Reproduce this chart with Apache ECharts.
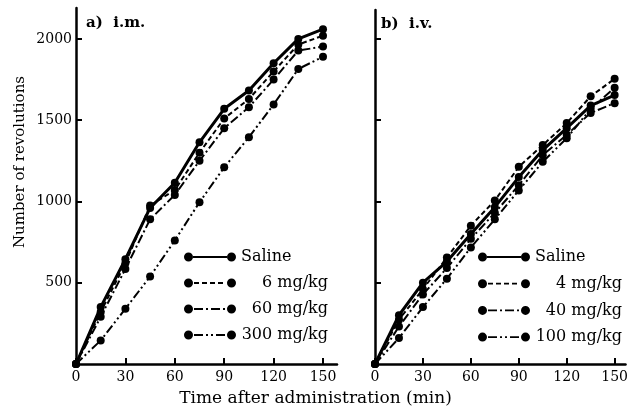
<!DOCTYPE html>
<html>
<head>
<meta charset="utf-8">
<script src="https://cdn.jsdelivr.net/npm/echarts@6/dist/echarts.min.js"></script>
<style>html,body{margin:0;padding:0;background:#fff}#c{width:631px;height:414px}</style>
</head>
<body>
<div id="c"></div>
<script>
// ---- data ----
var times = [0, 15, 30, 45, 60, 75, 90, 105, 120, 135, 150];
var xTicks = [0, 30, 60, 90, 120, 150];
var yTicks = [500, 1000, 1500, 2000];

var imNames = ['Saline', '6 mg/kg', '60 mg/kg', '300 mg/kg'];
var imSaline = [0, 350, 645, 960, 1115, 1364, 1570, 1682, 1850, 2000, 2060];
var im6 = [0, 320, 620, 975, 1070, 1300, 1510, 1630, 1800, 1965, 2020];
var im60 = [0, 290, 585, 890, 1040, 1250, 1450, 1580, 1750, 1928, 1953];
var im300 = [0, 145, 340, 538, 760, 995, 1210, 1395, 1596, 1815, 1890];

var ivNames = ['Saline', '4 mg/kg', '40 mg/kg', '100 mg/kg'];
var ivSaline = [0, 300, 500, 630, 800, 965, 1150, 1316, 1451, 1590, 1655];
var iv4 = [0, 273, 460, 655, 851, 1006, 1213, 1347, 1482, 1647, 1755];
var iv40 = [0, 231, 428, 590, 770, 930, 1100, 1285, 1410, 1545, 1605];
var iv100 = [0, 160, 350, 525, 717, 890, 1068, 1244, 1389, 1570, 1700];

// ---- styles ----
var FONT = 'DejaVu Serif';
var dashes = ['solid', [5, 3], [9, 3, 2, 3], [9, 3, 2, 3, 2, 3]];
var widths = [3, 2, 2, 2];

function pairs(vals) { return times.map(function (t, i) { return [t, vals[i]]; }); }

// legend icon path: dots at both ends with a line pattern between
function iconPath(pattern) {
  var W = 52;
  var p = 'M0,4.5 A4.5,4.5 0 1,1 9,4.5 A4.5,4.5 0 1,1 0,4.5 Z ' +
          'M' + (W - 9) + ',4.5 A4.5,4.5 0 1,1 ' + W + ',4.5 A4.5,4.5 0 1,1 ' + (W - 9) + ',4.5 Z ';
  var x0 = 9, x1 = W - 9;
  if (pattern === 'solid') {
    p += 'M' + x0 + ',3.4 H' + x1 + ' V5.6 H' + x0 + ' Z';
  } else {
    var x = x0 + 1, k = 0;
    while (x < x1 - 1) {
      var len = pattern[k % pattern.length];
      var gap = pattern[(k + 1) % pattern.length];
      var e = Math.min(x + len, x1);
      p += 'M' + x + ',3.6 H' + e + ' V5.4 H' + x + ' Z ';
      x = e + gap; k += 2;
    }
  }
  return 'path://' + p;
}

function makeSeries(names, arrs, idx) {
  return names.map(function (n, i) {
    return {
      type: 'line', name: n, xAxisIndex: idx, yAxisIndex: idx,
      data: pairs(arrs[i]),
      symbol: 'circle', symbolSize: 8, showSymbol: true,
      lineStyle: { color: '#000', width: widths[i], type: dashes[i] },
      itemStyle: { color: '#000' },
      animation: false, z: 5 - i
    };
  });
}

function legendFor(names, left, top, gap) {
  return {
    orient: 'vertical', left: left, top: top, padding: 0, itemGap: gap,
    itemWidth: 52, itemHeight: 9, symbolKeepAspect: false, selectedMode: false,
    data: names.map(function (n, i) { return { name: n, icon: iconPath(dashes[i]) }; }),
    formatter: function (n) { return n === 'Saline' ? '{l|' + n + '}' : '{r|' + n + '}'; },
    textStyle: {
      fontFamily: FONT, fontSize: 16, color: '#000', lineHeight: 18,
      rich: {
        l: { width: 87, align: 'left', fontFamily: FONT, fontSize: 16, color: '#000', lineHeight: 18 },
        r: { width: 87, align: 'right', fontFamily: FONT, fontSize: 16, color: '#000', lineHeight: 18 }
      }
    }
  };
}

var axisLine = { show: true, lineStyle: { color: '#000', width: 2.5 } };
var axisTick = { show: true, inside: true, length: 6, lineStyle: { color: '#000', width: 2 } };
function plain(v) { return String(v); }

function xAxisFor(idx, max) {
  return {
    type: 'value', gridIndex: idx, min: 0, max: max,
    axisLine: axisLine,
    axisTick: Object.assign({ customValues: xTicks }, axisTick),
    axisLabel: { customValues: xTicks, formatter: plain, color: '#000', fontFamily: FONT, fontSize: 14, margin: 6 },
    splitLine: { show: false }
  };
}
function yAxisFor(idx, max, showLabels) {
  var a = {
    type: 'value', gridIndex: idx, min: 0, max: max,
    axisLine: axisLine,
    axisTick: Object.assign({ customValues: yTicks }, axisTick),
    axisLabel: { show: showLabels, customValues: yTicks, formatter: plain, color: '#000', fontFamily: FONT, fontSize: 14, margin: 4 },
    splitLine: { show: false }
  };
  if (showLabels) {
    a.name = 'Number of revolutions';
    a.nameLocation = 'middle';
    a.nameGap = 48;
    a.nameTextStyle = { color: '#000', fontFamily: FONT, fontSize: 15, padding: [0, 0, 0, 48] };
  }
  return a;
}

var chart = echarts.init(document.getElementById('c'), null, { renderer: 'canvas' });
chart.setOption({
  backgroundColor: '#fff',
  animation: false,
  title: [
    { text: 'a)  i.m.', left: 86, top: 16, padding: 0,
      textStyle: { fontFamily: FONT, fontSize: 15, fontWeight: 'bold', color: '#000' } },
    { text: 'b)  i.v.', left: 381, top: 17, padding: 0,
      textStyle: { fontFamily: FONT, fontSize: 15, fontWeight: 'bold', color: '#000' } }
  ],
  grid: [
    { left: 76, top: 8, width: 261, height: 356 },
    { left: 375, top: 10, width: 256, height: 354 }
  ],
  xAxis: [xAxisFor(0, 158.5), xAxisFor(1, 156.8)],
  yAxis: [yAxisFor(0, 2190, true), yAxisFor(1, 2178, false)],
  legend: [legendFor(imNames, 184, 248, 8), legendFor(ivNames, 478, 248, 8.7)],
  graphic: [{
    type: 'text', left: 'center', top: 390,
    style: { text: 'Time after administration (min)', fontFamily: FONT, fontSize: 17, fill: '#000' }
  }],
  series: makeSeries(imNames, [imSaline, im6, im60, im300], 0)
    .concat(makeSeries(ivNames, [ivSaline, iv4, iv40, iv100], 1))
});
</script>
</body>
</html>
